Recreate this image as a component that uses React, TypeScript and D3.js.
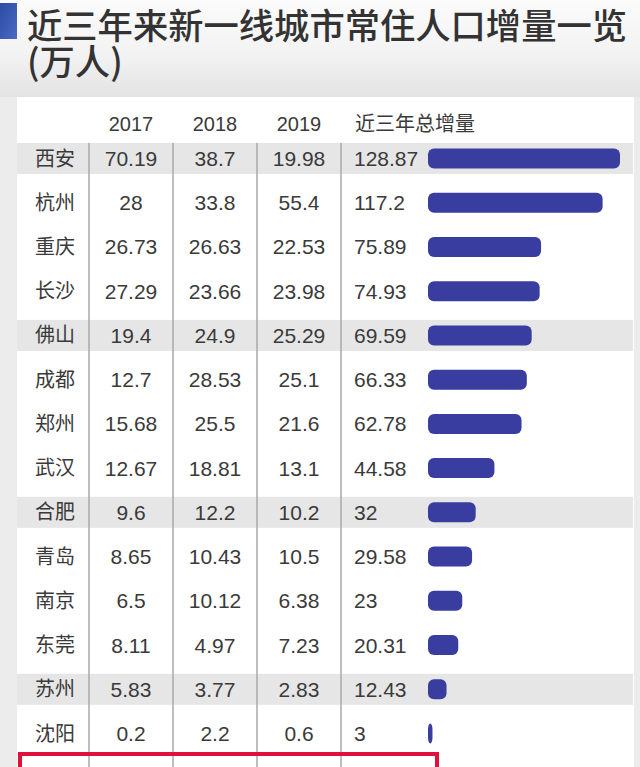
import React from "react";
import * as d3 from "d3";

const cities = ["西安","杭州","重庆","长沙","佛山","成都","郑州","武汉","合肥","青岛","南京","东莞","苏州","沈阳","天津"];
const v2017 = ["70.19","28","26.73","27.29","19.4","12.7","15.68","12.67","9.6","8.65","6.5","8.11","5.83","0.2","-5.25"];
const v2018 = ["38.7","33.8","26.63","23.66","24.9","28.53","25.5","18.81","12.2","10.43","10.12","4.97","3.77","2.2","2.73"];
const v2019 = ["19.98","55.4","22.53","23.98","25.29","25.1","21.6","13.1","10.2","10.5","6.38","7.23","2.83","0.6","2.23"];
const totals = [128.87,117.2,75.89,74.93,69.59,66.33,62.78,44.58,32,29.58,23,20.31,12.43,3,-0.29];
const years = ["2017","2018","2019"];
const title1 = "近三年来新一线城市常住人口增量一览";
const title2 = "(万人)";
const totalHeader = "近三年总增量";

const W = 640, H = 767;
const FONT = "'Liberation Sans', Arial, 'Noto Sans CJK SC', sans-serif";
const CJK = "'Noto Sans CJK SC', 'Liberation Sans', sans-serif";

export default function App() {
  const y = d3.scaleLinear().domain([0, 13]).range([158.5, 733.5]);
  const xYear = d3.scalePoint<string>().domain(years).range([131, 299]);
  const xBar = d3.scaleLinear().domain([0, 128.87]).range([428, 620]);
  const rowH = 31;
  const cols = [v2017, v2018, v2019];
  const vlines = [89, 173, 257, 341];

  return (
    <svg width={W} height={H} style={{ position: "absolute", left: 0, top: 0, display: "block" }}>
      <defs>
        <linearGradient id="topg" x1="0" y1="0" x2="0" y2="1">
          <stop offset="0" stopColor="#fbfbfb" />
          <stop offset="0.55" stopColor="#f3f3f3" />
          <stop offset="1" stopColor="#e3e3e3" />
        </linearGradient>
        <linearGradient id="blueg" x1="0" y1="0" x2="1" y2="1">
          <stop offset="0" stopColor="#2b4ba6" />
          <stop offset="1" stopColor="#4a6bc0" />
        </linearGradient>
      </defs>
      <rect x={0} y={0} width={W} height={H} fill="#ececec" />
      <rect x={0} y={0} width={W} height={97} fill="url(#topg)" />
      <rect x={0} y={3} width={17} height={36} fill="url(#blueg)" />
      <text x={27} y={39} fontFamily={CJK} fontSize={35.3} fontWeight={500} fill="#333333">{title1}</text>
      <text x={27} y={75} fontFamily={CJK} fontSize={35.3} fontWeight={500} fill="#333333">{title2}</text>

      <rect x={17} y={97} width={617} height={H - 97} fill="#ffffff" />

      {years.map((yr) => (
        <text key={yr} x={xYear(yr)} y={131} textAnchor="middle" fontFamily={FONT} fontSize={20} fill="#3a3a3a">{yr}</text>
      ))}
      <text x={355} y={131} fontFamily={CJK} fontSize={20} fill="#3a3a3a">{totalHeader}</text>

      {cities.map((c, i) => (i % 4 === 0 ? (
        <rect key={"s" + c} x={17} y={y(i) - rowH / 2} width={616} height={rowH} fill="#e6e6e6" />
      ) : null))}

      {vlines.map((vx) => (
        <line key={vx} x1={vx} x2={vx} y1={143} y2={H} stroke="#a9a9a9" strokeWidth={1.5} />
      ))}

      {cities.map((c, i) => {
        const cy = y(i);
        const t = totals[i];
        const bw = t > 0 ? xBar(t) - xBar(0) : 0;
        return (
          <g key={c}>
            <text x={55} y={cy + 7} textAnchor="middle" fontFamily={CJK} fontSize={20} fill="#3a3a3a">{c}</text>
            {cols.map((col, j) => (
              <text key={j} x={xYear(years[j])} y={cy + 7.5} textAnchor="middle" fontFamily={FONT} fontSize={21} fill="#3a3a3a">{col[i]}</text>
            ))}
            <text x={354} y={cy + 7.5} fontFamily={FONT} fontSize={21} fill="#3a3a3a">{String(t)}</text>
            {bw > 0 && (
              <rect x={xBar(0)} y={cy - 10} width={bw} height={20} rx={Math.min(6, bw / 2)} ry={6} fill="#393d9f" />
            )}
          </g>
        );
      })}

      <rect x={20} y={754} width={417} height={40} fill="none" stroke="#e0103c" strokeWidth={4} />
    </svg>
  );
}
